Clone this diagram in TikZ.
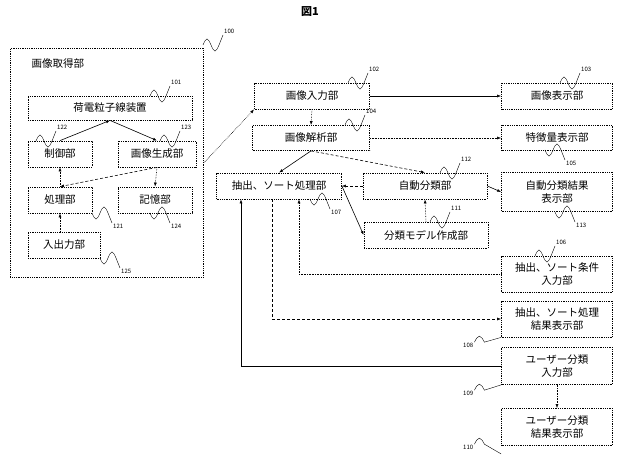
\documentclass[tikz,border=0pt]{standalone}
\usepackage{fontspec}
\setmainfont{Noto Sans CJK JP}
\usetikzlibrary{arrows.meta}
\begin{document}
\begin{tikzpicture}[x=1pt,y=-1pt,
  box/.style={draw,densely dotted,thick,inner sep=0,font=\fontsize{10.5}{12.5}\selectfont,align=center},
  ar/.style={-{Latex[length=4pt,width=3pt]},semithick},
  num/.style={font=\fontsize{6}{7}\selectfont,inner sep=1pt,anchor=south west},
  numd/.style={font=\fontsize{6}{7}\selectfont,inner sep=1pt,anchor=north west}]
\useasboundingbox (0,0) rectangle (622,457);
\newcommand\sq[3]{\draw[thin] (#1,#2) sin +(4,-6) cos +(4,6) sin +(4,6) cos +(4,-6) -- +(4,-10) node[num]{#3};}
\newcommand\sqd[3]{\draw[thin] (#1,#2) sin +(4,6) cos +(4,-6) sin +(4,-6) cos +(4,6) -- +(4,10) node[numd]{#3};}
\node[font=\bfseries\fontsize{11}{13}\selectfont] (t) at (310,12) {図1};
% left block
\node[box,minimum width=193,minimum height=229,anchor=north west] (g) at (10,48) {};
\node[font=\fontsize{10.5}{12.5}\selectfont,anchor=west] (gl) at (28,64) {画像取得部};
\node[box,minimum width=164,minimum height=24] (c) at (110,108) {荷電粒子線装置};
\node[box,minimum width=64,minimum height=26] (s) at (60,154) {制御部};
\node[box,minimum width=78,minimum height=26] (ig) at (157,154) {画像生成部};
\node[box,minimum width=64,minimum height=26] (p) at (60,200) {処理部};
\node[box,minimum width=74,minimum height=26] (m) at (155,200) {記憶部};
\node[box,minimum width=72,minimum height=26] (io) at (64,245) {入出力部};
% right side
\node[box,minimum width=115,minimum height=26] (in) at (312,96) {画像入力部};
\node[box,minimum width=111,minimum height=26] (dp) at (557,96) {画像表示部};
\node[box,minimum width=117,minimum height=25] (an) at (311,138) {画像解析部};
\node[box,minimum width=111,minimum height=25] (fd) at (557,138) {特徴量表示部};
\node[box,minimum width=125,minimum height=26] (ex) at (279,186) {抽出、ソート処理部};
\node[box,minimum width=124,minimum height=26] (ac) at (425,186) {自動分類部};
\node[box,minimum width=111,minimum height=39] (ar) at (557,192) {自動分類結果\\表示部};
\node[box,minimum width=124,minimum height=26] (mk) at (426,235) {分類モデル作成部};
\node[box,minimum width=111,minimum height=36] (ci) at (557,274) {抽出、ソート条件\\入力部};
\node[box,minimum width=111,minimum height=36] (rd) at (557,319) {抽出、ソート処理\\結果表示部};
\node[box,minimum width=111,minimum height=37] (ui) at (557,366) {ユーザー分類\\入力部};
\node[box,minimum width=111,minimum height=37] (ud) at (557,427) {ユーザー分類\\結果表示部};
% arrows left
\draw[ar] (s.north) -- (c.south);
\draw[ar] (c.south) -- (ig.north);
\draw[ar,densely dotted] (p.north) -- (s.south);
\draw[ar,densely dashed] (ig.south) -- (p.north);
\draw[ar,densely dotted] (ig.south) -- (m.north);
\draw[ar,densely dotted] (io.north-|p.north) -- (p.south);
\draw[ar,densely dotted] (g.east) -- (in.south west);
% arrows right
\draw[ar] (in) -- (dp);
\draw[ar,densely dotted] (in.south) -- (an.north);
\draw[ar,densely dotted] (an) -- (fd);
\draw[ar] (an.south) -- (ex.north);
\draw[ar,densely dashed] (an.south) -- (ac.north);
\draw[ar,densely dashed] (ac) -- (ex);
\draw[ar] (ac.east) -- (ar.west);
\draw[ar] (ex.east) -- (mk.west);
\draw[ar,densely dotted] (mk.north) -- (ac.south);
\draw[ar,densely dotted] (ci.west) -| ([xshift=20]ex.south);
\draw[ar,densely dashed] ([xshift=-7]ex.south) |- (rd.west);
\draw[ar] (ui.west) -| ([xshift=-38]ex.south);
\draw[ar,densely dotted] (ui.south) -- (ud.north);
% squiggles
\sq{203}{45}{100}
\sq{150}{96}{101}
\sq{36}{141}{122}
\sq{160}{141}{123}
\sqd{92}{213}{121}
\sqd{150}{213}{124}
\sqd{100}{258}{125}
\sq{348}{83}{102}
\sq{345}{125}{104}
\sq{560}{83}{103}
\sq{440}{173}{112}
\sq{430}{222}{111}
\sqd{310}{199}{107}
\sqd{545}{150}{105}
\sqd{555}{212}{113}
\sq{535}{256}{106}
\node[num] (n108) at (462,349) {108};
\draw[thin] (n108.north east) sin +(5,-6) cos +(5,6) -- (rd.south west);
\node[num] (n109) at (462,397) {109};
\draw[thin] (n109.north east) sin +(5,-6) cos +(5,6) -- (ui.south west);
\node[num] (n110) at (462,451) {110};
\draw[thin] (n110.north east) sin +(5,-6) cos +(5,6) -- ([yshift=-8]ud.south west);
\end{tikzpicture}
\end{document}
